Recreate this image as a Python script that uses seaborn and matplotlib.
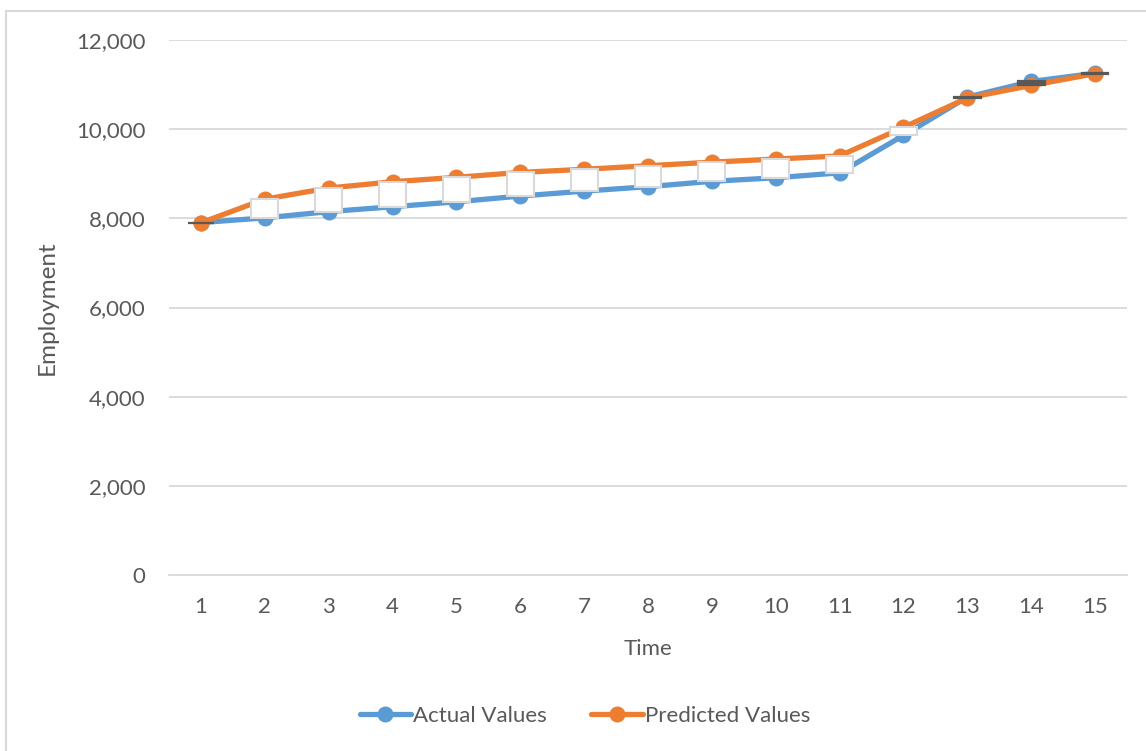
import numpy as np
import pandas as pd
import matplotlib
matplotlib.use("Agg")
import matplotlib.pyplot as plt
from matplotlib.patches import Rectangle
from matplotlib.lines import Line2D
from matplotlib.ticker import FuncFormatter
import seaborn as sns

# data
tempo = list(range(1, 16))
atual = [7905, 8010, 8150, 8260, 8370, 8500, 8610, 8710, 8830, 8910, 9020, 9860, 10720, 11070, 11255]
previsto = [7900, 8430, 8680, 8820, 8920, 9030, 9100, 9180, 9260, 9330, 9400, 10040, 10700, 10980, 11245]
yticks = [0, 2000, 4000, 6000, 8000, 10000, 12000]

cor_azul = "#5b9bd5"
cor_laranja = "#ed7d31"
cor_texto = "#595959"
cor_grade = "#d9d9d9"

sns.set_style("white")
plt.rcParams["font.family"] = ["Lato", "DejaVu Sans"]

dados = pd.DataFrame({"tempo": tempo, "atual": atual, "previsto": previsto})

fig = plt.figure(figsize=(11.46, 7.51), dpi=100)
ax = fig.add_axes([169 / 1146, 1 - 575 / 751, (1127 - 169) / 1146, (575 - 40) / 751])

# moldura do gráfico
fig.patches.append(Rectangle((6 / 1146, -0.1), 1.2, 1 - 11 / 751 + 0.1, transform=fig.transFigure,
                             fill=False, edgecolor=cor_grade, linewidth=1.5, zorder=0))

sns.lineplot(data=dados, x="tempo", y="atual", ax=ax, color=cor_azul, linewidth=3.8,
             marker="o", markersize=11.5, markeredgewidth=0, zorder=2)
sns.lineplot(data=dados, x="tempo", y="previsto", ax=ax, color=cor_laranja, linewidth=3.8,
             marker="o", markersize=11.5, markeredgewidth=0, zorder=2)

# barras de alta/baixa entre as duas séries
for t, a, p in zip(dados["tempo"], dados["atual"], dados["previsto"]):
    if p > a:
        ax.bar(t, p - a, bottom=a, width=0.42, color="white", edgecolor=cor_grade,
               linewidth=1.5, zorder=3)
    else:
        ax.bar(t, a - p, bottom=p, width=0.42, color="#595959", edgecolor="#595959",
               linewidth=1.6, zorder=3)

ax.set_xlim(0.5, 15.5)
ax.set_ylim(0, 12000)
ax.set_yticks(yticks)
ax.yaxis.set_major_formatter(FuncFormatter(lambda v, pos: f"{int(v):,}"))
ax.set_xticks(tempo)
ax.grid(axis="y", color=cor_grade, linewidth=1.3)
ax.set_axisbelow(True)
for lado in ["top", "right", "left"]:
    ax.spines[lado].set_visible(False)
ax.spines["bottom"].set_color(cor_grade)
ax.spines["bottom"].set_linewidth(1.3)
ax.tick_params(axis="both", length=0, labelsize=16, labelcolor=cor_texto)
ax.tick_params(axis="y", pad=17)
ax.tick_params(axis="x", pad=16)
ax.set_xlabel("Time", fontsize=16, color=cor_texto, labelpad=16)
ax.set_ylabel("Employment", fontsize=17.5, color=cor_texto, labelpad=13)

alcas = [Line2D([], [], color=cor_azul, linewidth=3.8, marker="o", markersize=11.5, markeredgewidth=0),
         Line2D([], [], color=cor_laranja, linewidth=3.8, marker="o", markersize=11.5, markeredgewidth=0)]
fig.legend(alcas, ["Actual Values", "Predicted Values"], loc="center",
           bbox_to_anchor=(585 / 1146, 1 - 716 / 751), ncol=2, frameon=False,
           fontsize=16, labelcolor=cor_texto, handlelength=2.3, handletextpad=0.1, columnspacing=2.0)

fig.savefig("out.png", dpi=100)
